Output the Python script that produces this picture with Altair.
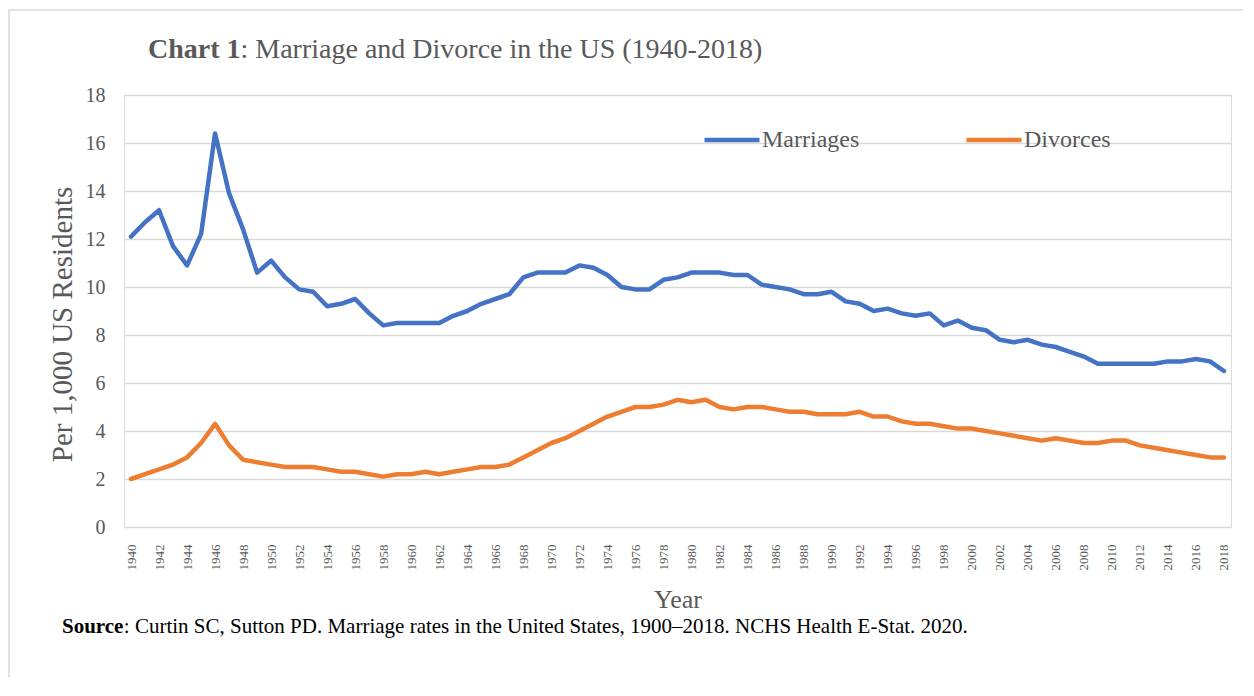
import altair as alt
import pandas as pd

years = list(range(1940, 2019))

marriages = [12.1, 12.7, 13.2, 11.7, 10.9, 12.2, 16.4, 13.9, 12.4, 10.6,
             11.1, 10.4, 9.9, 9.8, 9.2, 9.3, 9.5, 8.9, 8.4, 8.5,
             8.5, 8.5, 8.5, 8.8, 9.0, 9.3, 9.5, 9.7, 10.4, 10.6,
             10.6, 10.6, 10.9, 10.8, 10.5, 10.0, 9.9, 9.9, 10.3, 10.4,
             10.6, 10.6, 10.6, 10.5, 10.5, 10.1, 10.0, 9.9, 9.7, 9.7,
             9.8, 9.4, 9.3, 9.0, 9.1, 8.9, 8.8, 8.9, 8.4, 8.6,
             8.3, 8.2, 7.8, 7.7, 7.8, 7.6, 7.5, 7.3, 7.1, 6.8,
             6.8, 6.8, 6.8, 6.8, 6.9, 6.9, 7.0, 6.9, 6.5]

divorces = [2.0, 2.2, 2.4, 2.6, 2.9, 3.5, 4.3, 3.4, 2.8, 2.7,
            2.6, 2.5, 2.5, 2.5, 2.4, 2.3, 2.3, 2.2, 2.1, 2.2,
            2.2, 2.3, 2.2, 2.3, 2.4, 2.5, 2.5, 2.6, 2.9, 3.2,
            3.5, 3.7, 4.0, 4.3, 4.6, 4.8, 5.0, 5.0, 5.1, 5.3,
            5.2, 5.3, 5.0, 4.9, 5.0, 5.0, 4.9, 4.8, 4.8, 4.7,
            4.7, 4.7, 4.8, 4.6, 4.6, 4.4, 4.3, 4.3, 4.2, 4.1,
            4.1, 4.0, 3.9, 3.8, 3.7, 3.6, 3.7, 3.6, 3.5, 3.5,
            3.6, 3.6, 3.4, 3.3, 3.2, 3.1, 3.0, 2.9, 2.9]

series_names = ["Marriages", "Divorces"]
series_colors = ["#4472C4", "#ED7D31"]
x_tick_years = list(range(1940, 2019, 2))
y_ticks = list(range(0, 19, 2))

title_bold = "Chart 1"
title_rest = ": Marriage and Divorce in the US (1940-2018)"
source_bold = "Source"
source_rest = ": Curtin SC, Sutton PD. Marriage rates in the United States, 1900\u20132018. NCHS Health E-Stat. 2020."
x_title = "Year"
y_title = "Per 1,000 US Residents"

df = pd.concat([
    pd.DataFrame({"Year": years, "Rate": marriages, "Series": series_names[0]}),
    pd.DataFrame({"Year": years, "Rate": divorces, "Series": series_names[1]}),
])

FONT = "Liberation Serif"
GRAY = "#595959"
W, H = 1107, 432

lines = alt.Chart(df).mark_line(strokeWidth=4.5, strokeCap="round", strokeJoin="round").encode(
    x=alt.X("Year:Q",
            scale=alt.Scale(domain=[1939.5, 2018.5], nice=False, zero=False),
            axis=alt.Axis(values=x_tick_years, format="d", labelAngle=-90, labelFont=FONT,
                          labelFontSize=13, labelColor=GRAY, labelPadding=17, ticks=False,
                          domain=False, grid=False, title=x_title, titleFont=FONT,
                          titleFontSize=26, titleFontWeight="normal", titleColor=GRAY,
                          titleX=W / 2, titleY=80, titleBaseline="alphabetic", titleAlign="center",
                          labelOverlap=False)),
    y=alt.Y("Rate:Q",
            scale=alt.Scale(domain=[0, 18], nice=False),
            axis=alt.Axis(values=y_ticks, labelFont=FONT, labelFontSize=20, labelColor=GRAY,
                          labelPadding=19, ticks=False, domain=False, grid=True,
                          gridColor="#D9D9D9", gridWidth=1.5, title=y_title, titleFont=FONT,
                          titleFontSize=29, titleFontWeight="normal", titleColor=GRAY,
                          titleAngle=-90, titleX=-53, titleY=229, titleAlign="center",
                          titleBaseline="alphabetic")),
    color=alt.Color("Series:N", scale=alt.Scale(domain=series_names, range=series_colors),
                    sort=series_names,
                    legend=alt.Legend(orient="none", legendX=578, legendY=15, direction="horizontal",
                                      title=None, symbolType="stroke", symbolSize=3025,
                                      symbolStrokeWidth=4.5, labelFont=FONT, labelFontSize=24,
                                      labelColor=GRAY, labelOffset=0, columnPadding=97,
                                      padding=0)),
)

one = alt.Data(values=[{"k": 1}])

def txt(text, x, y, size, weight="normal", color=GRAY):
    return alt.Chart(one).mark_text(text=text, font=FONT, fontSize=size, fontWeight=weight,
                                    color=color, align="left", baseline="alphabetic").encode(
        x=alt.value(x), y=alt.value(y))

border = alt.Chart(one).mark_rect(fill=None, stroke="#D9D9D9", strokeWidth=1.5).encode(
    x=alt.value(-115), x2=alt.value(1500), y=alt.value(-85), y2=alt.value(1000))

t1 = txt(title_bold, 24, -37, 28, "bold")
t2 = txt(title_rest, 24 + 92.5, -37, 28)
s1 = txt(source_bold, -62, 538, 21, "bold", "#000000")
s2 = txt(source_rest, -62 + 61.8, 538, 21, "normal", "#000000")

chart = alt.layer(border, lines, t1, t2, s1, s2).properties(
    width=W, height=H,
    autosize=alt.AutoSizeParams(type="none"),
    padding={"left": 116, "top": 87, "right": 12, "bottom": 150},
).configure_view(stroke=None).configure(background="white")

chart.save("out.html", embed_options={"renderer": "svg", "actions": False})
